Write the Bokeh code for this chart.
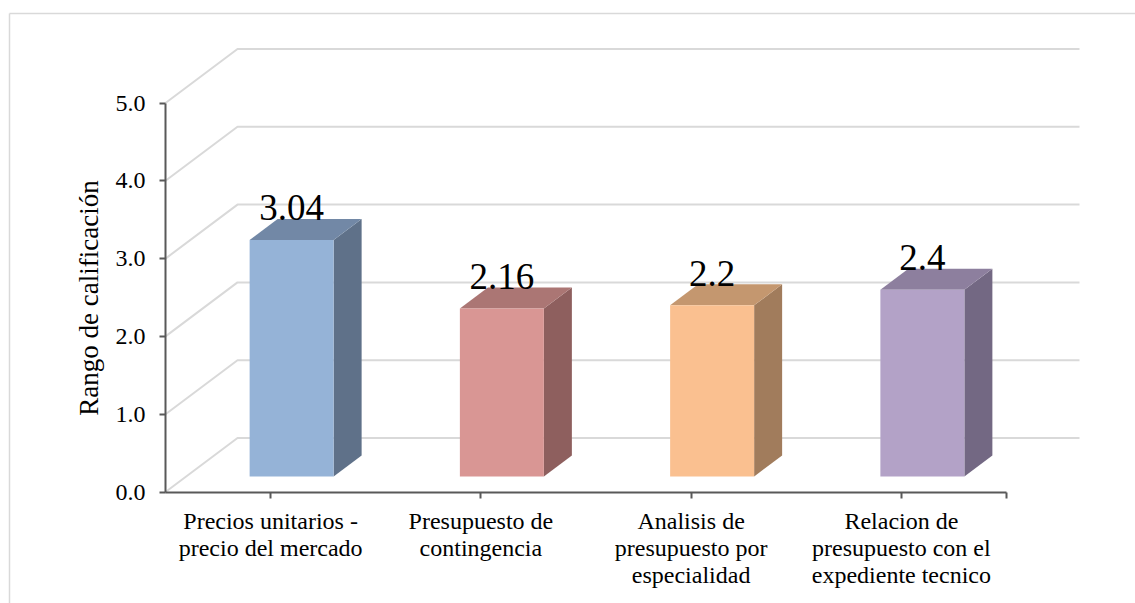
from bokeh.embed import file_html
from bokeh.resources import INLINE
from bokeh.plotting import figure
from bokeh.models import FixedTicker, NumeralTickFormatter, Range1d
from bokeh.core.properties import value

categories = ["Precios unitarios -\nprecio del mercado",
              "Presupuesto de\ncontingencia",
              "Analisis de\npresupuesto por\nespecialidad",
              "Relacion de\npresupuesto con el\nexpediente tecnico"]
values = [3.04, 2.16, 2.2, 2.4]
value_labels = ["3.04", "2.16", "2.2", "2.4"]
y_ticks = [0, 1, 2, 3, 4, 5]
x_ticks = [0.5, 1.5, 2.5, 3.5, 4.0]
front_colors = ["#95B3D7", "#D99694", "#FAC090", "#B3A2C7"]
top_colors = ["#7288A6", "#AB7674", "#C4976F", "#8D7F9E"]
side_colors = ["#5F7189", "#8E5F5E", "#A17C5C", "#736883"]

W, H = 1135, 603
X0, UX = 165.0, 210.25     # pixel of x=0, pixels per category
Y0, UY = 491.5, 77.8       # pixel of y=0, pixels per rating unit

def px(x):
    return (x - X0) / UX

def py(y):
    return (Y0 - y) / UY

# oblique offsets of the back wall and of each bar, in data units
wall_dx, wall_dy = 72 / UX, 54 / UY
bar_dx, bar_dy = 28 / UX, 21 / UY
lift_x, lift_y = 21 / UX, 15.5 / UY
half = 42 / UX
wall_end = px(1079)

p = figure(width=W, height=H, output_backend="svg", toolbar_location=None,
           x_range=Range1d(px(0), px(W)), y_range=Range1d(py(H), py(0)),
           min_border=0, min_border_left=0, min_border_right=0,
           min_border_top=0, min_border_bottom=0)
p.outline_line_color = None
p.grid.visible = False
p.background_fill_color = "#FFFFFF"

# outer chart border (top and left edges only reach the page)
p.segment([px(9), px(9)], [py(13), py(13)], [px(W), px(9)], [py(13), py(H)],
          line_color="#D9D9D9", line_width=1.5)

# floor/side and back-wall gridlines
for t in y_ticks:
    p.line([0, wall_dx, wall_end], [t, t + wall_dy, t + wall_dy],
           line_color="#D9D9D9", line_width=2)

# 3D bars: side, top, then front
for i, v in enumerate(values):
    c = i + 0.5 + lift_x
    l, r = c - half, c + half
    b = lift_y
    t = lift_y + v
    p.patch([r, r + bar_dx, r + bar_dx, r], [b, b + bar_dy, t + bar_dy, t],
            fill_color=side_colors[i], line_color=None)
    p.patch([l, l + bar_dx, r + bar_dx, r], [t, t + bar_dy, t + bar_dy, t],
            fill_color=top_colors[i], line_color=None)
    p.quad(left=[l], right=[r], bottom=[b], top=[t],
           fill_color=front_colors[i], line_color=None)
    p.text([c], [t + 32 / UY], text=[value_labels[i]], text_align="center",
           text_baseline="alphabetic", text_font=value("Liberation Serif"),
           text_font_size="37px", text_color="#000000")

# category labels, set tighter than an axis label allows
p.text([i + 0.5 for i in range(len(categories))], [py(507)] * len(categories),
       text=categories, text_align="center", text_baseline="top",
       text_font=value("Liberation Serif"), text_font_size="24px",
       text_line_height=1.05, text_color="#000000")

# axes sit inside the frame at the data origin
xa = p.xaxis[0]
xa.fixed_location = 0
xa.bounds = (0, 4)
xa.ticker = FixedTicker(ticks=x_ticks)
xa.major_label_overrides = {t: "" for t in x_ticks}
xa.minor_tick_line_color = None
xa.major_tick_in = 0
xa.major_tick_out = 6
xa.axis_line_color = "#595959"
xa.axis_line_width = 2
xa.major_tick_line_color = "#595959"
xa.major_tick_line_width = 2

ya = p.yaxis[0]
ya.fixed_location = 0
ya.bounds = (0, 5)
ya.ticker = FixedTicker(ticks=y_ticks)
ya.formatter = NumeralTickFormatter(format="0.0")
ya.minor_tick_line_color = None
ya.major_tick_in = 0
ya.major_tick_out = 6
ya.axis_line_color = "#595959"
ya.axis_line_width = 2
ya.major_tick_line_color = "#595959"
ya.major_tick_line_width = 2
ya.major_label_text_font = "Liberation Serif"
ya.major_label_text_font_size = "24px"
ya.major_label_text_color = "#000000"
ya.major_label_standoff = 14
ya.axis_label = "Rango de calificación"
ya.axis_label_text_font = "Liberation Serif"
ya.axis_label_text_font_style = "normal"
ya.axis_label_text_font_size = "27px"
ya.axis_label_text_color = "#000000"
ya.axis_label_standoff = 9

open("out.html", "w").write(file_html(p, INLINE))
